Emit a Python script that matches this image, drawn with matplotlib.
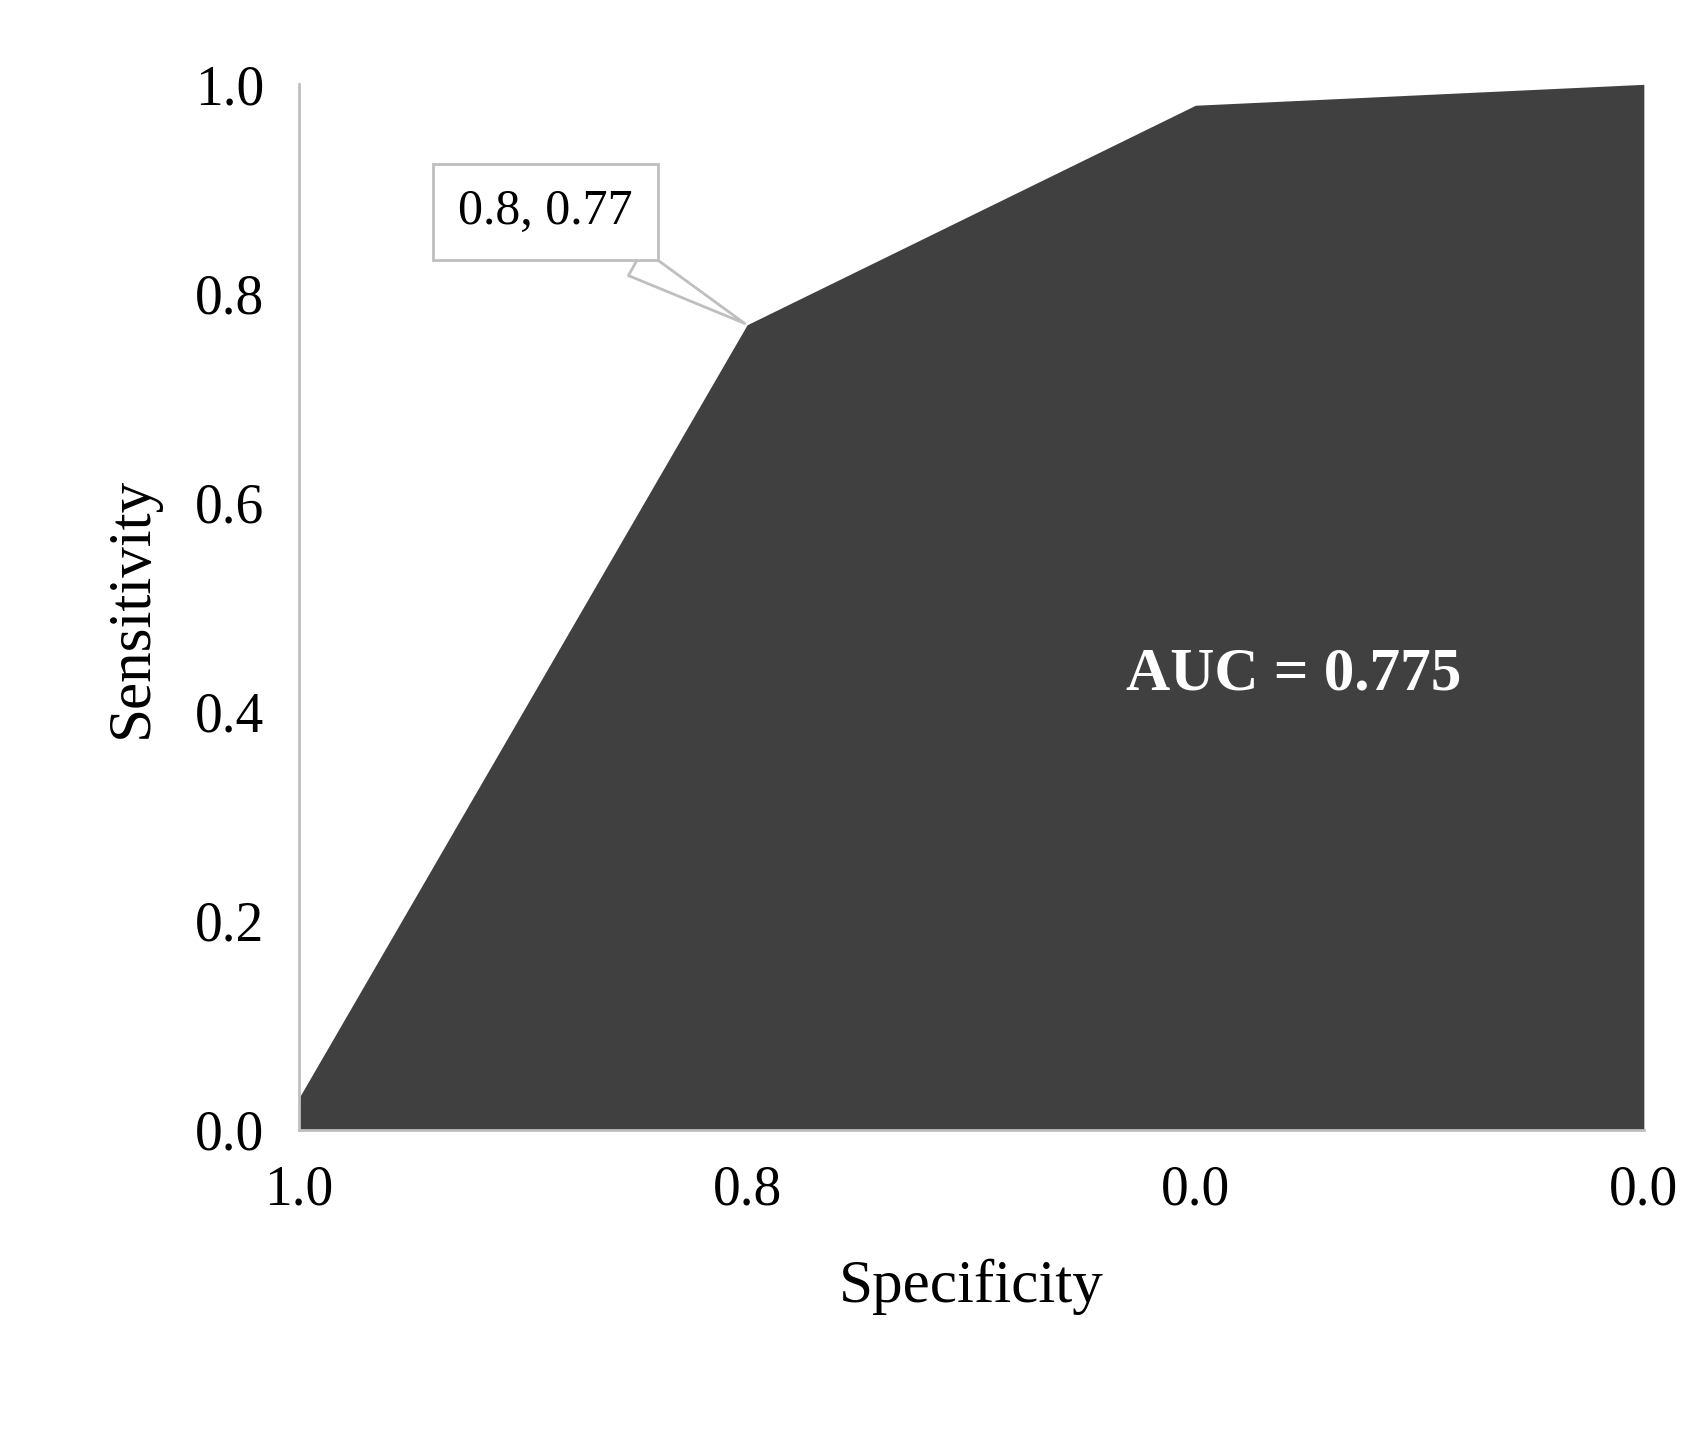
import matplotlib
matplotlib.use("Agg")
import matplotlib.pyplot as plt

categories = ["1.0", "0.8", "0.0", "0.0"]
sensitivity = [0.03, 0.77, 0.98, 1.0]
yticks = [0.0, 0.2, 0.4, 0.6, 0.8, 1.0]

plt.rcParams['font.family'] = ['Liberation Serif', 'DejaVu Serif']
fig = plt.figure(figsize=(17.07, 14.54), dpi=100)
ax = fig.add_axes([0.175, 0.223, 0.788, 0.719])
x = list(range(len(categories)))
ax.fill_between(x, sensitivity, 0, color="#404040", linewidth=0)
ax.set_xlim(0, len(categories) - 1)
ax.set_ylim(0, 1.0)
ax.set_xticks(x)
ax.set_xticklabels(categories)
ax.set_yticks(yticks)
ax.set_yticklabels([f"{v:.1f}" for v in yticks])
ax.tick_params(length=0, labelsize=40, pad=25)
for s in ["top", "right"]:
    ax.spines[s].set_visible(False)
for s in ["left", "bottom"]:
    ax.spines[s].set_color("#bfbfbf")
    ax.spines[s].set_linewidth(2)
ax.set_xlabel("Specificity", fontsize=44, labelpad=30)
ax.set_ylabel("Sensitivity", fontsize=44, labelpad=25)
ax.annotate(f"{float(categories[1])}, {sensitivity[1]}", xy=(x[1], sensitivity[1]),
            xytext=(0.55, 0.878), ha="center", va="center", fontsize=36,
            bbox=dict(boxstyle="square,pad=0.5", fc="white", ec="#bfbfbf", lw=2),
            arrowprops=dict(arrowstyle="wedge,tail_width=0.6", fc="white", ec="#bfbfbf", lw=2))
ax.text(2.22, 0.435, "AUC = 0.775", color="white", fontsize=44, fontweight="bold",
        ha="center", va="center")
fig.savefig("out.png", dpi=100)
